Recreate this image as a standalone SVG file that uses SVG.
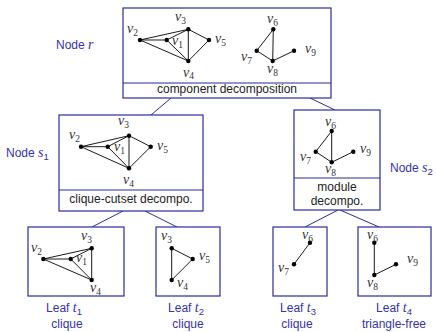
<svg xmlns="http://www.w3.org/2000/svg" width="437" height="332" viewBox="0 0 437 332">
<style>
.box{fill:#fff;stroke:#2b2b9c;stroke-width:1.2}
.div{stroke:#2b2b9c;stroke-width:1.2}
.conn{stroke:#2b2b9c;stroke-width:1;fill:none}
.e{stroke:#000;stroke-width:0.9}
.d{fill:#000}
.m{font-family:"Liberation Serif",serif;font-style:italic;font-size:14px;fill:#333}
.sub{font-style:normal;font-size:9.5px}
.t{font-family:"Liberation Sans",sans-serif;font-size:12px;fill:#222;text-anchor:middle}
.lbl{font-family:"Liberation Sans",sans-serif;font-size:12px;fill:#3333aa}
.lblc{font-family:"Liberation Sans",sans-serif;font-size:12px;fill:#3333aa;text-anchor:middle}
.mi{font-family:"Liberation Serif",serif;font-style:italic;font-size:14px}
</style>
<rect width="437" height="332" fill="#fff"/>
<g id="connectors">
<line class="conn" x1="171" y1="98" x2="151" y2="115"/>
<line class="conn" x1="310" y1="98" x2="335" y2="110"/>
<line class="conn" x1="123" y1="211" x2="92" y2="227"/>
<line class="conn" x1="145" y1="211" x2="177" y2="227"/>
<line class="conn" x1="338" y1="210" x2="305" y2="227"/>
<line class="conn" x1="340" y1="210" x2="379" y2="227"/>
</g>
<g id="node-r">
<rect class="box" x="123" y="8" width="208" height="90"/>
<line class="div" x1="123" y1="83" x2="331" y2="83"/>
<text class="t" x="227" y="93">component decomposition</text>
<text class="lbl" x="56" y="49">Node <tspan class="mi">r</tspan></text>
<g>
<line class="e" x1="140" y1="40" x2="188.3" y2="29.3"/>
<line class="e" x1="140" y1="40" x2="166.7" y2="40"/>
<line class="e" x1="140" y1="40" x2="188.3" y2="61"/>
<line class="e" x1="166.7" y1="40" x2="188.3" y2="29.3"/>
<line class="e" x1="166.7" y1="40" x2="188.3" y2="61"/>
<line class="e" x1="188.3" y1="29.3" x2="188.3" y2="61"/>
<line class="e" x1="188.3" y1="29.3" x2="209" y2="40"/>
<line class="e" x1="209" y1="40" x2="188.3" y2="61"/>
<line class="e" x1="273.3" y1="29.3" x2="256.7" y2="50.7"/>
<line class="e" x1="273.3" y1="29.3" x2="272.7" y2="61"/>
<line class="e" x1="256.7" y1="50.7" x2="272.7" y2="61"/>
<line class="e" x1="272.7" y1="61" x2="294" y2="50.7"/>
<circle class="d" cx="140" cy="40" r="2.2"/>
<circle class="d" cx="166.7" cy="40" r="2.2"/>
<circle class="d" cx="188.3" cy="29.3" r="2.2"/>
<circle class="d" cx="209" cy="40" r="2.2"/>
<circle class="d" cx="188.3" cy="61" r="2.2"/>
<circle class="d" cx="273.3" cy="29.3" r="2.2"/>
<circle class="d" cx="256.7" cy="50.7" r="2.2"/>
<circle class="d" cx="272.7" cy="61" r="2.2"/>
<circle class="d" cx="294" cy="50.7" r="2.2"/>
<text class="m" x="127" y="33">v<tspan class="sub" dy="3">2</tspan></text>
<text class="m" x="172" y="45">v<tspan class="sub" dy="3">1</tspan></text>
<text class="m" x="175" y="21">v<tspan class="sub" dy="3">3</tspan></text>
<text class="m" x="215" y="43">v<tspan class="sub" dy="3">5</tspan></text>
<text class="m" x="183" y="77">v<tspan class="sub" dy="2">4</tspan></text>
<text class="m" x="267" y="23">v<tspan class="sub" dy="3">6</tspan></text>
<text class="m" x="241" y="61">v<tspan class="sub" dy="3">7</tspan></text>
<text class="m" x="267" y="73">v<tspan class="sub" dy="3">8</tspan></text>
<text class="m" x="305" y="53">v<tspan class="sub" dy="3">9</tspan></text>
</g>
</g>
<g id="node-s1">
<rect class="box" x="59" y="115" width="144" height="96"/>
<line class="div" x1="59" y1="190" x2="203" y2="190"/>
<text class="t" x="131" y="203">clique-cutset decompo.</text>
<text class="lbl" x="6" y="157">Node <tspan class="mi">s</tspan><tspan class="sub" dy="3">1</tspan></text>
<line class="e" x1="81" y1="146.7" x2="129" y2="135.7"/>
<line class="e" x1="81" y1="146.7" x2="107.7" y2="146.7"/>
<line class="e" x1="81" y1="146.7" x2="129" y2="168.3"/>
<line class="e" x1="107.7" y1="146.7" x2="129" y2="135.7"/>
<line class="e" x1="107.7" y1="146.7" x2="129" y2="168.3"/>
<line class="e" x1="129" y1="135.7" x2="129" y2="168.3"/>
<line class="e" x1="129" y1="135.7" x2="150.7" y2="146.7"/>
<line class="e" x1="150.7" y1="146.7" x2="129" y2="168.3"/>
<circle class="d" cx="81" cy="146.7" r="2.2"/>
<circle class="d" cx="107.7" cy="146.7" r="2.2"/>
<circle class="d" cx="129" cy="135.7" r="2.2"/>
<circle class="d" cx="150.7" cy="146.7" r="2.2"/>
<circle class="d" cx="129" cy="168.3" r="2.2"/>
<text class="m" x="69" y="139">v<tspan class="sub" dy="3">2</tspan></text>
<text class="m" x="114" y="151">v<tspan class="sub" dy="3">1</tspan></text>
<text class="m" x="118" y="125">v<tspan class="sub" dy="3">3</tspan></text>
<text class="m" x="157" y="150">v<tspan class="sub" dy="3">5</tspan></text>
<text class="m" x="123" y="184">v<tspan class="sub" dy="3">4</tspan></text>
</g>
<g id="node-s2">
<rect class="box" x="294" y="110" width="86" height="100"/>
<line class="div" x1="294" y1="178" x2="380" y2="178"/>
<text class="t" x="337" y="191">module</text>
<text class="t" x="337" y="205">decompo.</text>
<text class="lbl" x="390" y="172">Node <tspan class="mi">s</tspan><tspan class="sub" dy="3">2</tspan></text>
<line class="e" x1="331.7" y1="131" x2="315.7" y2="151.7"/>
<line class="e" x1="331.7" y1="131" x2="331.7" y2="162.3"/>
<line class="e" x1="315.7" y1="151.7" x2="331.7" y2="162.3"/>
<line class="e" x1="331.7" y1="162.3" x2="353.3" y2="151.7"/>
<circle class="d" cx="331.7" cy="131" r="2.2"/>
<circle class="d" cx="315.7" cy="151.7" r="2.2"/>
<circle class="d" cx="331.7" cy="162.3" r="2.2"/>
<circle class="d" cx="353.3" cy="151.7" r="2.2"/>
<text class="m" x="325" y="126">v<tspan class="sub" dy="3">6</tspan></text>
<text class="m" x="300" y="161">v<tspan class="sub" dy="3">7</tspan></text>
<text class="m" x="325" y="173">v<tspan class="sub" dy="3">8</tspan></text>
<text class="m" x="360" y="153">v<tspan class="sub" dy="3">9</tspan></text>
</g>
<g id="leaf-t1">
<rect class="box" x="28" y="227" width="96" height="69"/>
<text class="lblc" x="64" y="312">Leaf <tspan class="mi">t</tspan><tspan class="sub" dy="3">1</tspan></text>
<text class="lblc" x="67" y="328">clique</text>
<line class="e" x1="43.3" y1="259" x2="91.7" y2="248.3"/>
<line class="e" x1="43.3" y1="259" x2="70.7" y2="259"/>
<line class="e" x1="43.3" y1="259" x2="91.7" y2="280"/>
<line class="e" x1="70.7" y1="259" x2="91.7" y2="248.3"/>
<line class="e" x1="70.7" y1="259" x2="91.7" y2="280"/>
<line class="e" x1="91.7" y1="248.3" x2="91.7" y2="280"/>
<circle class="d" cx="43.3" cy="259" r="2.2"/>
<circle class="d" cx="70.7" cy="259" r="2.2"/>
<circle class="d" cx="91.7" cy="248.3" r="2.2"/>
<circle class="d" cx="91.7" cy="280" r="2.2"/>
<text class="m" x="31" y="252">v<tspan class="sub" dy="3">2</tspan></text>
<text class="m" x="76" y="262">v<tspan class="sub" dy="3">1</tspan></text>
<text class="m" x="81" y="240">v<tspan class="sub" dy="3">3</tspan></text>
<text class="m" x="90" y="292">v<tspan class="sub" dy="3">4</tspan></text>
</g>
<g id="leaf-t2">
<rect class="box" x="156" y="227" width="64" height="69"/>
<text class="lblc" x="186" y="312">Leaf <tspan class="mi">t</tspan><tspan class="sub" dy="3">2</tspan></text>
<text class="lblc" x="188" y="328">clique</text>
<line class="e" x1="171.7" y1="248.3" x2="192.7" y2="259"/>
<line class="e" x1="171.7" y1="248.3" x2="171.7" y2="280"/>
<line class="e" x1="192.7" y1="259" x2="171.7" y2="280"/>
<circle class="d" cx="171.7" cy="248.3" r="2.2"/>
<circle class="d" cx="192.7" cy="259" r="2.2"/>
<circle class="d" cx="171.7" cy="280" r="2.2"/>
<text class="m" x="161" y="240">v<tspan class="sub" dy="3">3</tspan></text>
<text class="m" x="199" y="260">v<tspan class="sub" dy="3">5</tspan></text>
<text class="m" x="177" y="287">v<tspan class="sub" dy="3">4</tspan></text>
</g>
<g id="leaf-t3">
<rect class="box" x="273" y="227" width="54" height="69"/>
<text class="lblc" x="298" y="312">Leaf <tspan class="mi">t</tspan><tspan class="sub" dy="3">3</tspan></text>
<text class="lblc" x="297" y="328">clique</text>
<line class="e" x1="310" y1="242.7" x2="294" y2="264.3"/>
<circle class="d" cx="310" cy="242.7" r="2.2"/>
<circle class="d" cx="294" cy="264.3" r="2.2"/>
<text class="m" x="302" y="239">v<tspan class="sub" dy="3">6</tspan></text>
<text class="m" x="278" y="272">v<tspan class="sub" dy="3">7</tspan></text>
</g>
<g id="leaf-t4">
<rect class="box" x="358" y="227" width="73" height="69"/>
<text class="lblc" x="394" y="312">Leaf <tspan class="mi">t</tspan><tspan class="sub" dy="3">4</tspan></text>
<text class="lblc" x="394" y="328">triangle-free</text>
<line class="e" x1="374.3" y1="242.7" x2="374.3" y2="275"/>
<line class="e" x1="374.3" y1="275" x2="396" y2="264.3"/>
<circle class="d" cx="374.3" cy="242.7" r="2.2"/>
<circle class="d" cx="374.3" cy="275" r="2.2"/>
<circle class="d" cx="396" cy="264.3" r="2.2"/>
<text class="m" x="367" y="239">v<tspan class="sub" dy="3">6</tspan></text>
<text class="m" x="367" y="287">v<tspan class="sub" dy="3">8</tspan></text>
<text class="m" x="407" y="263">v<tspan class="sub" dy="3">9</tspan></text>
</g>
</svg>
